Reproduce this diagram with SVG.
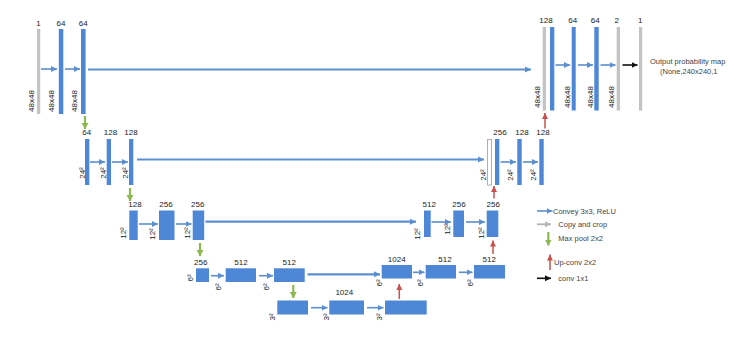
<svg xmlns="http://www.w3.org/2000/svg" width="750" height="341" viewBox="0 0 750 341">
<style>
text{font-family:"Liberation Sans",Arial,sans-serif;fill:#222;}
.n{font-size:8px;text-anchor:middle;}
.r{font-size:8px;text-anchor:middle;}
.lg{font-size:7.5px;fill:#444;}
.b{fill:#4D87D6;}
.g{fill:#C3C3C3;}
.o{fill:#fff;stroke:#B0B0B0;stroke-width:1;}
.ab{stroke:#5B8FD0;stroke-width:1.6;fill:none;marker-end:url(#mb);}
.al{stroke:#5B8FD0;stroke-width:2.2;fill:none;marker-end:url(#mb);}
.ag{stroke:#8CB850;stroke-width:2.2;fill:none;marker-end:url(#mg);}
.ar{stroke:#C9504C;stroke-width:1.5;fill:none;marker-end:url(#mr);}
.ak{stroke:#111;stroke-width:1.6;fill:none;marker-end:url(#mk);}
.ay{stroke:#B5B5B5;stroke-width:1.8;fill:none;marker-end:url(#my);}
</style>
<defs>
<marker id="mb" markerUnits="userSpaceOnUse" markerWidth="7" markerHeight="7" refX="6" refY="3.5" orient="auto"><path d="M0,0.5 L6,3.5 L0,6.5 z" fill="#5B8FD0"/></marker>
<marker id="mg" markerUnits="userSpaceOnUse" markerWidth="8" markerHeight="8" refX="6" refY="4" orient="auto"><path d="M0,0.5 L6,4 L0,7.5 z" fill="#8CB850"/></marker>
<marker id="mr" markerUnits="userSpaceOnUse" markerWidth="7" markerHeight="7" refX="6" refY="3.5" orient="auto"><path d="M0,0.5 L6,3.5 L0,6.5 z" fill="#C9504C"/></marker>
<marker id="mk" markerUnits="userSpaceOnUse" markerWidth="7" markerHeight="7" refX="6" refY="3.5" orient="auto"><path d="M0,0.5 L6,3.5 L0,6.5 z" fill="#111"/></marker>
<marker id="my" markerUnits="userSpaceOnUse" markerWidth="7" markerHeight="7" refX="6" refY="3.5" orient="auto"><path d="M0,0.5 L6,3.5 L0,6.5 z" fill="#B5B5B5"/></marker>
</defs>

<!-- Row 1 left -->
<g id="in1"><rect class="g" x="37" y="29" width="3.2" height="85"/><text class="n" x="38.5" y="26">1</text><text class="r" transform="translate(33.5,101) rotate(-90)">48x48</text></g>
<g id="c1a"><rect class="b" x="58.8" y="29" width="4.5" height="85"/><text class="n" x="61" y="26">64</text><text class="r" transform="translate(53.5,101) rotate(-90)">48x48</text></g>
<g id="c1b"><rect class="b" x="81" y="29" width="4.6" height="85"/><text class="n" x="83.3" y="26">64</text><text class="r" transform="translate(76.5,101) rotate(-90)">48x48</text></g>

<!-- Row 2 left -->
<g id="c2a"><rect class="b" x="85" y="139" width="4.3" height="46"/><text class="n" x="86.7" y="135">64</text><text class="r" transform="translate(84.5,173) rotate(-90)">24²</text></g>
<g id="c2b"><rect class="b" x="106.7" y="139" width="4.3" height="46"/><text class="n" x="110.5" y="135">128</text><text class="r" transform="translate(105.5,173) rotate(-90)">24²</text></g>
<g id="c2c"><rect class="b" x="129" y="139" width="4.3" height="46"/><text class="n" x="131" y="135">128</text><text class="r" transform="translate(127.8,173) rotate(-90)">24²</text></g>

<!-- Row 3 left -->
<g id="c3a"><rect class="b" x="129.3" y="210.5" width="8.4" height="29.5"/><text class="n" x="135" y="207">128</text><text class="r" transform="translate(126,233) rotate(-90)">12²</text></g>
<g id="c3b"><rect class="b" x="159" y="210.5" width="15.5" height="29.5"/><text class="n" x="166" y="207">256</text><text class="r" transform="translate(154.5,234) rotate(-90)">12²</text></g>
<g id="c3c"><rect class="b" x="192.7" y="210.5" width="11.5" height="29.5"/><text class="n" x="197.7" y="207">256</text><text class="r" transform="translate(189.5,233) rotate(-90)">12²</text></g>

<!-- Row 4 left -->
<g id="c4a"><rect class="b" x="196" y="268.3" width="13" height="13.7"/><text class="n" x="200.7" y="265">256</text><text class="r" transform="translate(193,278) rotate(-90)">6²</text></g>
<g id="c4b"><rect class="b" x="225.7" y="268.3" width="30.3" height="13.7"/><text class="n" x="241" y="265">512</text><text class="r" transform="translate(221,287) rotate(-90)">6²</text></g>
<g id="c4c"><rect class="b" x="274" y="268.3" width="30.7" height="13.7"/><text class="n" x="289.3" y="265">512</text><text class="r" transform="translate(269,287) rotate(-90)">6²</text></g>

<!-- Row 5 bottom -->
<g id="c5a"><rect class="b" x="277.3" y="300.5" width="30.7" height="14"/><text class="r" transform="translate(275,317) rotate(-90)">3²</text></g>
<g id="c5b"><rect class="b" x="329.3" y="300.5" width="34.7" height="14"/><text class="n" x="344.3" y="294.5">1024</text><text class="r" transform="translate(328.5,317) rotate(-90)">3²</text></g>
<g id="c5c"><rect class="b" x="385" y="300.5" width="41.7" height="14"/><text class="r" transform="translate(382,317) rotate(-90)">3²</text></g>

<!-- Row 4 right -->
<g id="u4a"><rect class="b" x="381.7" y="265" width="30.3" height="13.5"/><text class="n" x="396.7" y="262">1024</text><text class="r" transform="translate(382,283) rotate(-90)">6²</text></g>
<g id="u4b"><rect class="b" x="425.7" y="265" width="30.3" height="13.5"/><text class="n" x="445" y="262">512</text><text class="r" transform="translate(423,283) rotate(-90)">6²</text></g>
<g id="u4c"><rect class="b" x="474" y="265" width="31" height="13.5"/><text class="n" x="489.3" y="262">512</text><text class="r" transform="translate(473,283) rotate(-90)">6²</text></g>

<!-- Row 3 right -->
<g id="u3a"><rect class="b" x="424" y="210.5" width="6.7" height="26.5"/><text class="n" x="429.3" y="207">512</text><text class="r" transform="translate(420,234) rotate(-90)">12²</text></g>
<g id="u3b"><rect class="b" x="453.3" y="210.5" width="10.7" height="26.5"/><text class="n" x="459" y="207">256</text><text class="r" transform="translate(450,229) rotate(-90)">12²</text></g>
<g id="u3c"><rect class="b" x="486.7" y="210.5" width="11.6" height="26.5"/><text class="n" x="493.3" y="207">256</text><text class="r" transform="translate(483.5,233) rotate(-90)">12²</text></g>

<!-- Row 2 right -->
<g id="u2a"><rect class="o" x="487.5" y="139.5" width="4" height="45.5"/><rect class="b" x="495" y="139" width="4.3" height="46"/><text class="n" x="500" y="135">256</text><text class="r" transform="translate(485.5,175) rotate(-90)">24²</text></g>
<g id="u2b"><rect class="b" x="517.3" y="139" width="4.4" height="46"/><text class="n" x="522" y="135">128</text><text class="r" transform="translate(513,175) rotate(-90)">24²</text></g>
<g id="u2c"><rect class="b" x="539.3" y="139" width="4.4" height="46"/><text class="n" x="543" y="135">128</text><text class="r" transform="translate(535.5,175) rotate(-90)">24²</text></g>

<!-- Row 1 right -->
<g id="u1a"><rect class="g" x="542.7" y="27" width="3.3" height="83.5"/><rect class="b" x="550" y="27" width="4.3" height="83.5"/><text class="n" x="546" y="23">128</text><text class="r" transform="translate(539.5,97) rotate(-90)">48x48</text></g>
<g id="u1b"><rect class="b" x="571.7" y="27" width="4" height="83.5"/><text class="n" x="572.7" y="23">64</text><text class="r" transform="translate(569.5,97) rotate(-90)">48x48</text></g>
<g id="u1c"><rect class="b" x="594.3" y="27" width="4.4" height="83.5"/><text class="n" x="595.3" y="23">64</text><text class="r" transform="translate(592.5,97) rotate(-90)">48x48</text></g>
<g id="o2"><rect class="g" x="616.7" y="27" width="3.3" height="83.5"/><text class="n" x="616.7" y="23">2</text><text class="r" transform="translate(614,97) rotate(-90)">48x48</text></g>
<g id="o1"><rect class="g" x="639" y="27" width="3.2" height="83.5"/><text class="n" x="640.3" y="23">1</text></g>
<g id="outlabel"><text class="lg" x="650" y="63.5">Output probability map</text><text class="lg" x="660" y="73.5">(None,240x240,1</text></g>

<!-- Connectors -->
<g id="connectors">
<line class="ab" x1="41" y1="69" x2="57" y2="69"/>
<line class="ab" x1="65" y1="69" x2="80" y2="69"/>
<line class="al" x1="88" y1="69.5" x2="531" y2="69.5"/>
<line class="ag" x1="85" y1="116" x2="85" y2="129"/>

<line class="ab" x1="90" y1="162" x2="105" y2="162"/>
<line class="ab" x1="112" y1="162" x2="128" y2="162"/>
<line class="al" x1="137" y1="159.5" x2="484" y2="159.5"/>
<line class="ag" x1="130" y1="188" x2="130" y2="201"/>

<line class="ab" x1="139" y1="224" x2="158" y2="224"/>
<line class="ab" x1="176" y1="224" x2="191.5" y2="224"/>
<line class="al" x1="205.5" y1="221.7" x2="416" y2="221.7"/>
<line class="ag" x1="200" y1="243" x2="200" y2="256"/>

<line class="ab" x1="211" y1="275.7" x2="224" y2="275.7"/>
<line class="ab" x1="259" y1="275.7" x2="273" y2="275.7"/>
<line class="al" x1="307.5" y1="274.3" x2="380" y2="274.3"/>
<line class="ag" x1="293.3" y1="285" x2="293.3" y2="298"/>

<line class="ab" x1="311" y1="307.7" x2="327.5" y2="307.7"/>
<line class="ab" x1="367" y1="307.7" x2="383.5" y2="307.7"/>
<line class="ar" x1="399.3" y1="299" x2="399.3" y2="284"/>

<line class="ab" x1="413" y1="272.3" x2="424.5" y2="272.3"/>
<line class="ab" x1="459" y1="272.3" x2="472.5" y2="272.3"/>
<line class="ar" x1="493" y1="254" x2="493" y2="240.5"/>

<line class="ab" x1="431.5" y1="222" x2="451" y2="222"/>
<line class="ab" x1="466" y1="222" x2="485" y2="222"/>
<line class="ar" x1="494" y1="198.5" x2="494" y2="186"/>

<line class="ab" x1="500.5" y1="162" x2="516" y2="162"/>
<line class="ab" x1="523" y1="162" x2="538" y2="162"/>
<line class="ar" x1="545" y1="128.5" x2="545" y2="113"/>

<line class="ab" x1="555.5" y1="65" x2="570" y2="65"/>
<line class="ab" x1="578" y1="65" x2="593" y2="65"/>
<line class="ab" x1="600.5" y1="65" x2="615.5" y2="65"/>
<line class="ak" x1="622.5" y1="65" x2="637.5" y2="65"/>
</g>

<!-- Legend -->
<g id="legend">
<line class="ab" x1="537" y1="211" x2="552.5" y2="211"/><text class="lg" x="553" y="213.7">Convey 3x3, ReLU</text>
<line class="ay" x1="537" y1="224.3" x2="551" y2="224.3"/><text class="lg" x="558.3" y="227">Copy and crop</text>
<line class="ag" x1="548.3" y1="232" x2="548.3" y2="245.5"/><text class="lg" x="558.3" y="241">Max pool 2x2</text>
<line class="ar" x1="550" y1="270" x2="550" y2="254.5"/><text class="lg" x="554" y="265.4">Up-conv 2x2</text>
<line class="ak" x1="537" y1="278.3" x2="551" y2="278.3"/><text class="lg" x="558.3" y="281">conv 1x1</text>
</g>
</svg>
